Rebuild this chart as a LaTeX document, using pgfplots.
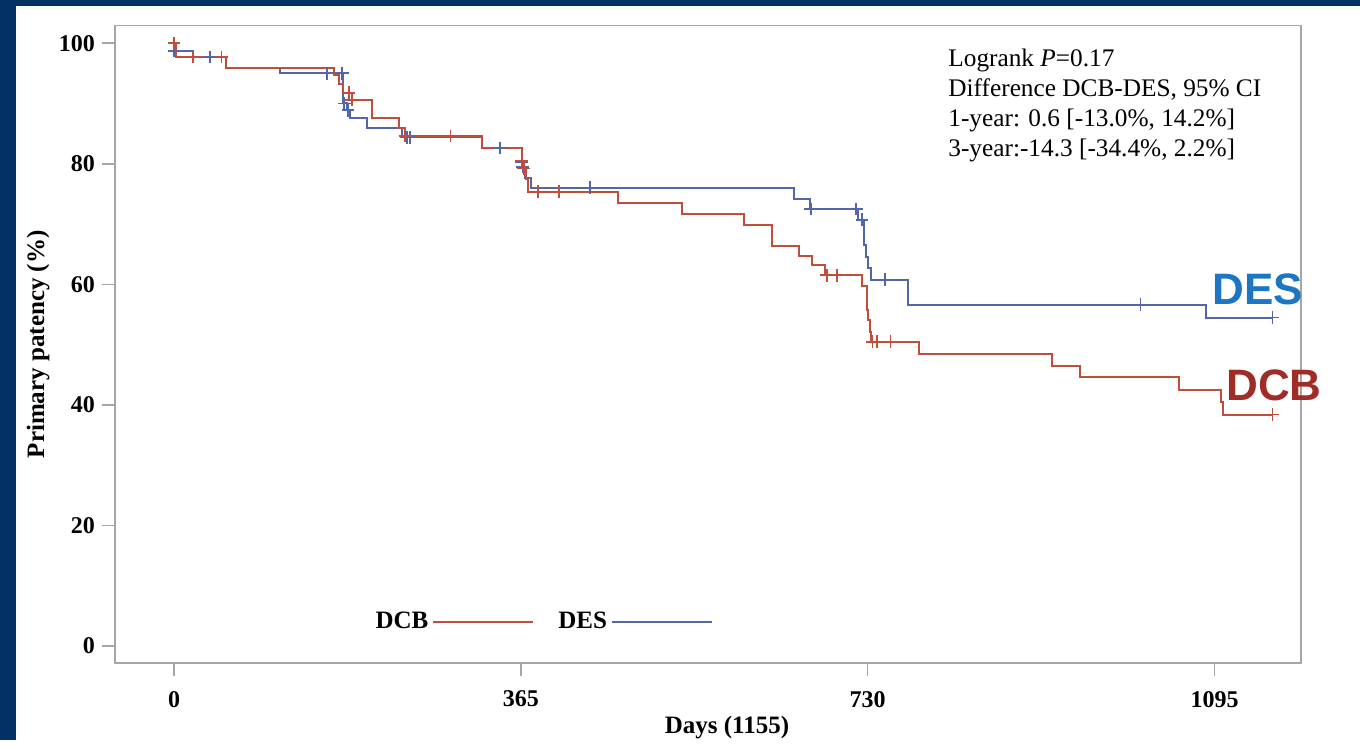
\documentclass[border=0pt]{standalone}
\usepackage{fontspec}
\setmainfont{Liberation Serif}
\newfontfamily\sansbold{Liberation Sans}[BoldFont={* Bold}]
\usepackage{pgfplots}
\pgfplotsset{compat=1.18}
\definecolor{navy}{RGB}{0,48,100}
\definecolor{dcbline}{RGB}{192,78,58}
\definecolor{desline}{RGB}{82,102,170}
\definecolor{deslabel}{RGB}{28,118,196}
\definecolor{dcblabel}{RGB}{160,44,40}
\begin{document}
\begin{tikzpicture}
\fill[navy] (0,0) rectangle (680pt,370pt);
\fill[white] (7.85pt,0) rectangle (680pt,367.15pt);
\begin{axis}[
  at={(57.5pt,38.5pt)}, anchor=south west, scale only axis,
  width=593pt, height=318.65pt,
  xmin=-62.1, xmax=1186, ymin=-2.8, ymax=102.9,
  axis line style={draw=black!35, line width=0.8pt},
  tick style={draw=black!35, line width=0.8pt},
  tick align=outside, major tick length=6.5pt, tick pos=left,
  xtick={0,365,730,1095}, xticklabels={0,365,730,1095},
  ytick={0,20,40,60,80,100}, yticklabels={0,20,40,60,80,100},
  ticklabel style={font=\fontsize{12}{14}\selectfont\bfseries},
  xticklabel style={yshift=-4pt},
  xlabel={Days (1155)}, ylabel={Primary patency (\%)},
  label style={font=\fontsize{12.5}{15}\selectfont\bfseries},
  xlabel style={at={(axis description cs:0.516,-0.102)}, anchor=center},
  ylabel style={at={(axis description cs:-0.0649,0.5)}, anchor=center},
  clip=false,
  legend style={at={(0.211,0.064)}, anchor=west, draw=none, fill=none,
    legend columns=2, font=\fontsize{12.5}{15}\selectfont\bfseries,
    /tikz/every even column/.append style={column sep=10pt}},
  legend plot pos=right,
  legend image code/.code={\draw[#1] (0pt,0pt) -- (50pt,0pt);},
]
\addlegendimage{dcbline, line width=1pt}
\addlegendentry{DCB}
\addlegendimage{desline, line width=1pt}
\addlegendentry{DES}

% DES step curve
\addplot[const plot, desline, line width=1pt, forget plot] coordinates {
(0,98.7) (20,97.7) (55,95.9) (112,95.0) (178,90.0) (182,88.9) (185,87.6)
(203,85.9) (240,84.4) (324,82.6) (366,79.5) (369,77.6) (376,76.0)
(652,74.2) (669,72.5) (720,70.7) (726,66.6) (728,64.6) (730,62.7)
(734,60.8) (772,56.6) (1086,54.5) (1156,54.5)};
% DES censored
\addplot[only marks, mark=+, mark size=3.2pt, desline, line width=0.9pt, forget plot] coordinates {
(0,98.7) (38,97.7) (161,95.0) (177,95.0) (179,90.0) (183,88.9) (245,84.4) (248,84.4)
(343,82.6) (366,80.3) (367,79.5) (438,76.0) (670,72.5) (718,72.5) (724,70.7)
(748,60.8) (1017,56.6) (1156,54.5)};

% DCB step curve
\addplot[const plot, dcbline, line width=1pt, forget plot] coordinates {
(0,100) (2,97.7) (55,95.9) (168,94.8) (174,93.3) (178,91.8) (187,90.6)
(208,87.6) (237,86.0) (243,84.6) (324,82.6) (366,80.5) (368,79.2) (370,77.5)
(372,75.4) (467,73.5) (535,71.7) (600,69.9) (629,66.4) (658,64.7) (671,63.2)
(685,61.5) (724,59.7) (729,55.7) (730.5,54.1) (732,52.1) (734,50.5) (784,48.5)
(924,46.4) (953,44.6) (1058,42.5) (1102,40.5) (1104,38.4) (1156,38.4)};
% DCB censored
\addplot[only marks, mark=+, mark size=3.2pt, dcbline, line width=0.9pt, forget plot] coordinates {
(0,100) (20,97.7) (50,97.7) (184,91.8) (187,90.6) (243,84.6) (291,84.6)
(366,80.5) (368,79.2) (383,75.4) (405,75.4) (687,61.5) (698,61.5)
(735,50.5) (740,50.5) (754,50.5) (1156,38.4)};

\node[font=\sansbold\bfseries\fontsize{22}{26}\selectfont, text=deslabel] at (axis cs:1140.8,59.2) {DES};
\node[font=\sansbold\bfseries\fontsize{22}{26}\selectfont, text=dcblabel] at (axis cs:1157.6,43.3) {DCB};
\end{axis}
\begin{scope}[every node/.style={anchor=base west, inner sep=0pt, font=\fontsize{12.65}{15}\selectfont}]
\node at (474pt,336.5pt) {Logrank \textit{P}=0.17};
\node at (474pt,321.5pt) {Difference DCB-DES, 95\% CI};
\node at (474pt,306.5pt) {1-year: 0.6 [-13.0\%, 14.2\%]};
\node at (474pt,291.5pt) {3-year:-14.3 [-34.4\%, 2.2\%]};
\end{scope}
\end{tikzpicture}
\end{document}
